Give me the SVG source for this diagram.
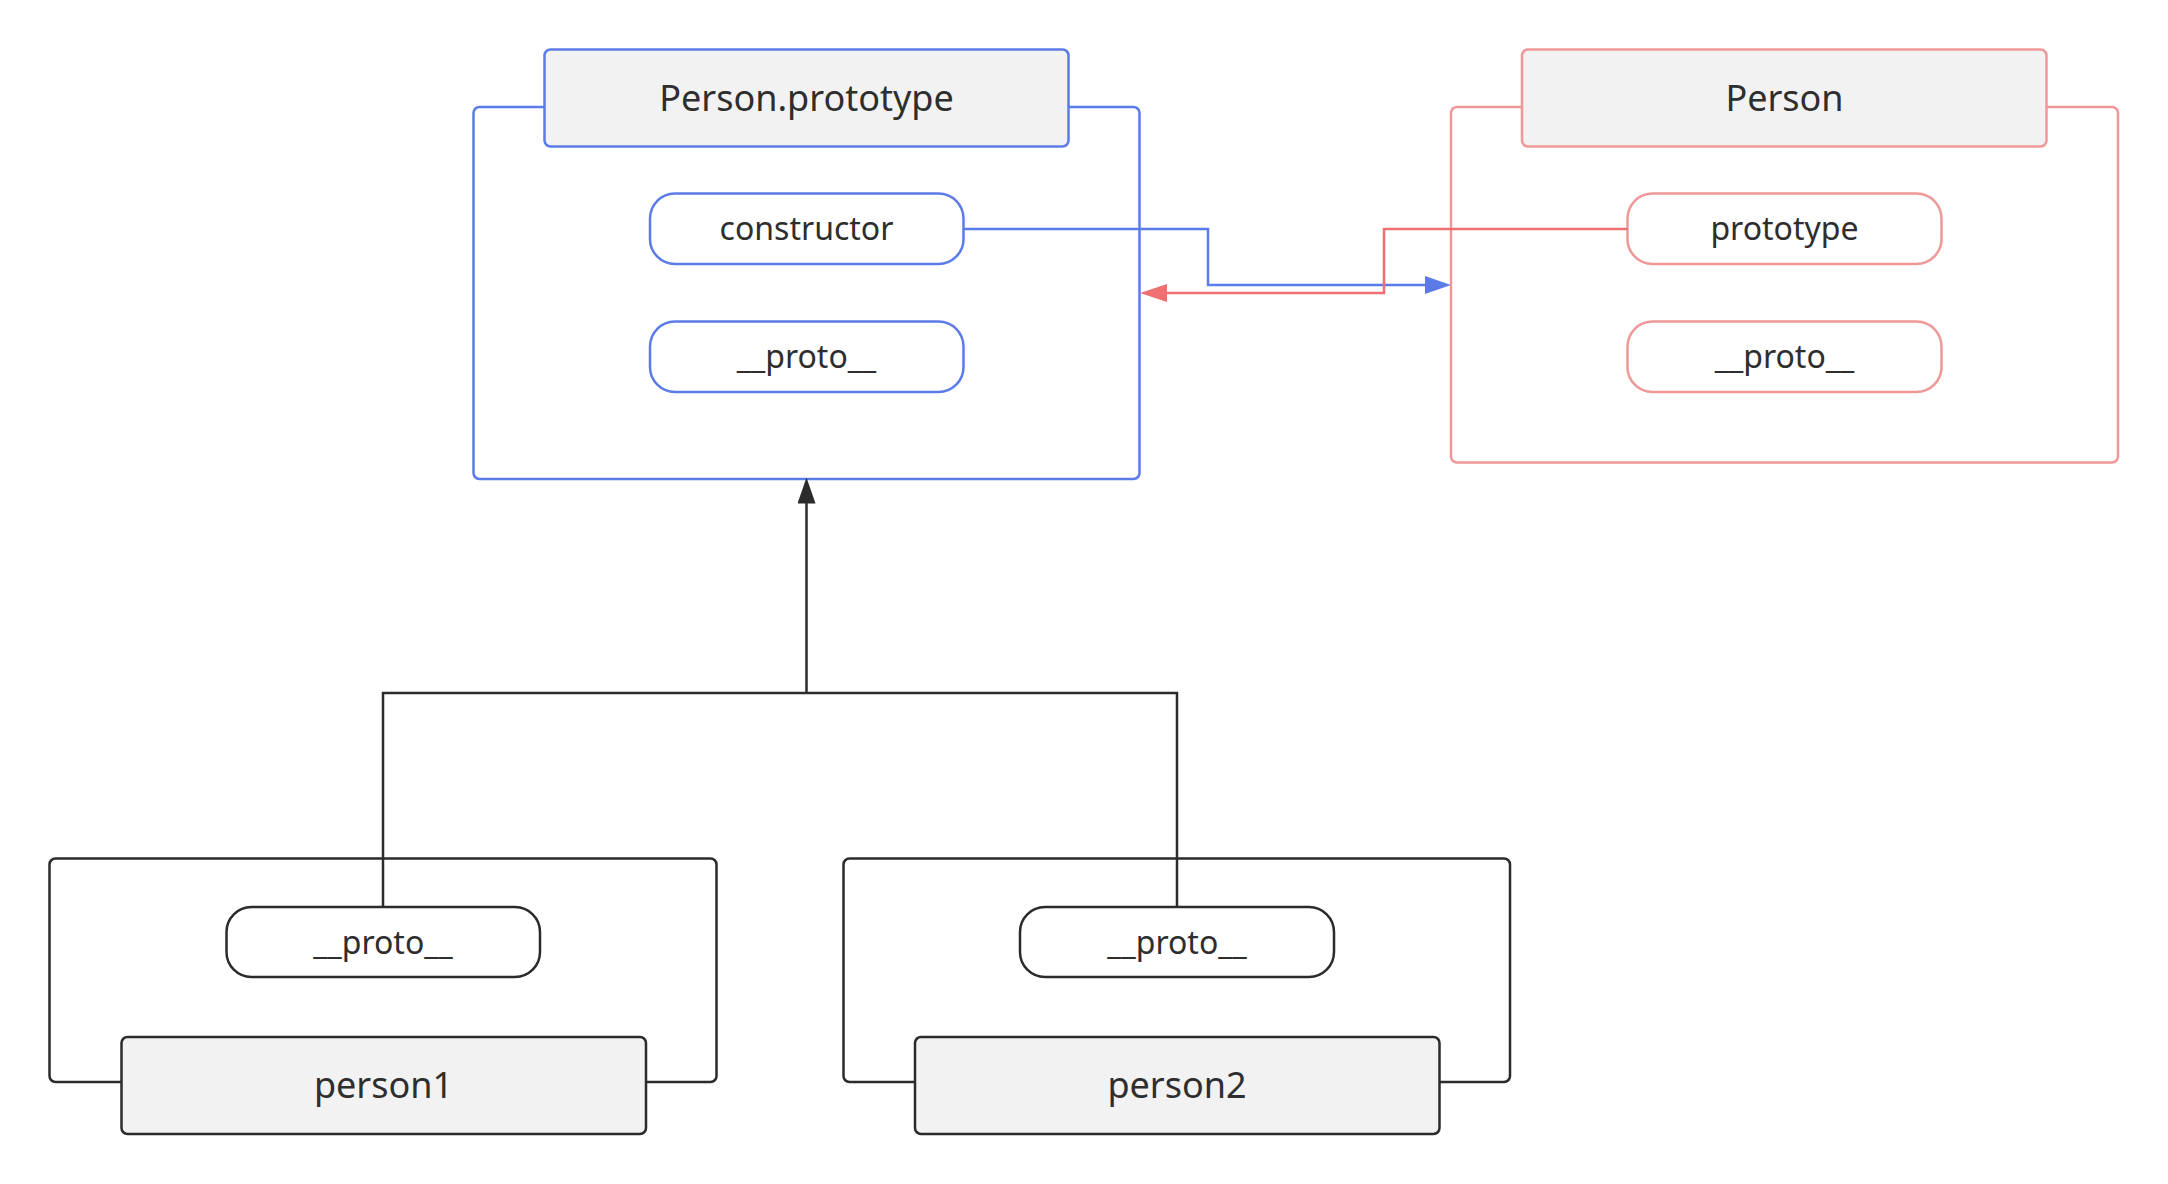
<svg xmlns="http://www.w3.org/2000/svg" width="2168" height="1184" viewBox="0 0 2168 1184">
<style>
.t{font-family:"Noto Sans","Open Sans","Liberation Sans",sans-serif;fill:#2e2e2e;text-anchor:middle}
.h{font-size:36px}
.p{font-size:32px}
.blue{stroke:#5b7ce8}
.red{stroke:#f09898}
.dark{stroke:#2b2b2b}
.outer{fill:#ffffff;stroke-width:2.5}
.head{fill:#f2f2f2;stroke-width:2.5}
.pill{fill:#ffffff;stroke-width:2.5}
.conn{fill:none;stroke-width:2.5}
</style>
<defs>
<marker id="aBlue" markerUnits="userSpaceOnUse" markerWidth="26" markerHeight="18" refX="16" refY="9" orient="auto">
<path d="M0,0 L26,9 L0,18 z" fill="#5b7ce8"/>
</marker>
<marker id="aRed" markerUnits="userSpaceOnUse" markerWidth="27" markerHeight="18" refX="17" refY="9" orient="auto">
<path d="M0,0 L27,9 L0,18 z" fill="#ee7070"/>
</marker>
<marker id="aDark" markerUnits="userSpaceOnUse" markerWidth="26" markerHeight="18" refX="16" refY="9" orient="auto">
<path d="M0,0 L26,9 L0,18 z" fill="#2b2b2b"/>
</marker>
</defs>
<rect width="2168" height="1184" fill="#ffffff"/>

<g id="person-prototype">
<rect class="outer blue" x="473.5" y="107" width="666" height="372" rx="6"/>
<rect class="head blue" x="544.5" y="49.5" width="524" height="97" rx="6"/>
<text class="t h" x="806.5" y="111">Person.prototype</text>
<g id="pp-constructor">
<rect class="pill blue" x="650" y="193.5" width="313.5" height="70.5" rx="25"/>
<text class="t p" x="806.5" y="240">constructor</text>
</g>
<g id="pp-proto">
<rect class="pill blue" x="650" y="321.5" width="313.5" height="70.5" rx="25"/>
<text class="t p" x="806.5" y="368">__proto__</text>
</g>
</g>

<g id="person">
<rect class="outer red" x="1451" y="107" width="667" height="355.5" rx="6"/>
<rect class="head red" x="1522" y="49.5" width="524.5" height="97" rx="6"/>
<text class="t h" x="1784.5" y="111">Person</text>
<g id="p-prototype">
<rect class="pill red" x="1627.5" y="193.5" width="314" height="70.5" rx="25"/>
<text class="t p" x="1784.5" y="240">prototype</text>
</g>
<g id="p-proto">
<rect class="pill red" x="1627.5" y="321.5" width="314" height="70.5" rx="25"/>
<text class="t p" x="1784.5" y="368">__proto__</text>
</g>
</g>

<g id="person1">
<rect class="outer dark" x="49.5" y="858.5" width="667" height="223.5" rx="6"/>
<g id="p1-proto">
<rect class="pill dark" x="226.5" y="907" width="313.5" height="70" rx="25"/>
<text class="t p" x="383" y="954">__proto__</text>
</g>
<rect class="head dark" x="121.5" y="1037" width="524.5" height="97" rx="6"/>
<text class="t h" x="383.5" y="1098">person1</text>
</g>

<g id="person2">
<rect class="outer dark" x="843.5" y="858.5" width="666.5" height="223.5" rx="6"/>
<g id="p2-proto">
<rect class="pill dark" x="1020" y="907" width="314" height="70" rx="25"/>
<text class="t p" x="1177" y="954">__proto__</text>
</g>
<rect class="head dark" x="915" y="1037" width="524.5" height="97" rx="6"/>
<text class="t h" x="1177" y="1098">person2</text>
</g>

<g id="connectors">
<path class="conn blue" d="M963.5,229 H1208 V285 H1441" marker-end="url(#aBlue)"/>
<path class="conn" stroke="#ee7070" d="M1627.5,229 H1384 V293 H1150" marker-end="url(#aRed)"/>
<path class="conn dark" d="M383,907 V693 H1177 V907"/>
<path class="conn dark" d="M806.5,693 V487.5" marker-end="url(#aDark)"/>
</g>
</svg>
